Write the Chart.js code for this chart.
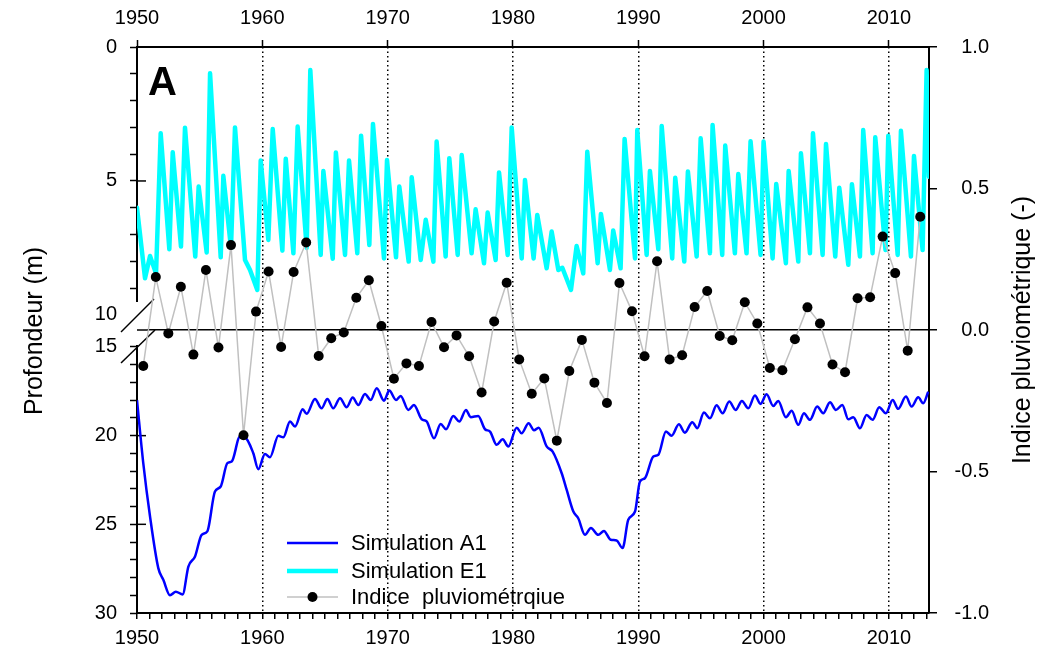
<!DOCTYPE html>
<html>
<head>
<meta charset="utf-8">
<script src="https://cdn.jsdelivr.net/npm/chart.js@4.4.0/dist/chart.umd.min.js"></script>
<style>
  html, body { margin: 0; padding: 0; background: #fff; }
  canvas { display: block; }
</style>
</head>
<body>
<canvas id="chart" width="1039" height="657"></canvas>
<script>
// Simulation E1 (profondeur, m) : creux et pics
const E1_YEARS = [
  1950.0, 1950.64, 1951.04, 1951.52, 1951.89, 1952.58, 1952.85, 1953.51, 1953.83, 1954.65, 1954.92,
  1955.56, 1955.83, 1956.68, 1956.89, 1957.5, 1957.82, 1958.62, 1959.02, 1959.6, 1959.87,
  1960.48, 1960.83, 1961.6, 1961.87, 1962.48, 1962.82, 1963.54, 1963.83, 1964.66, 1964.87,
  1965.62, 1965.87, 1966.6, 1966.92, 1967.58, 1967.88, 1968.54, 1968.83, 1969.71, 1969.95,
  1970.67, 1970.93, 1971.68, 1971.92, 1972.64, 1973.04, 1973.65, 1973.91, 1974.63, 1974.92,
  1975.59, 1975.91, 1976.7, 1977.02, 1977.69, 1977.98, 1978.62, 1978.89, 1979.58, 1979.9,
  1980.7, 1980.96, 1981.65, 1981.94, 1982.69, 1983.09, 1983.62, 1983.94, 1984.63, 1985.08,
  1985.61, 1985.93, 1986.76, 1987.02, 1987.74, 1988.0, 1988.59, 1988.91, 1989.74, 1989.92,
  1990.67, 1990.93, 1991.6, 1991.87, 1992.71, 1992.95, 1993.67, 1993.96, 1994.66, 1994.98,
  1995.72, 1995.93, 1996.7, 1996.94, 1997.71, 1997.98, 1998.64, 1998.96, 1999.76, 2000.0,
  2000.72, 2001.01, 2001.78, 2002.0, 2002.77, 2002.98, 2003.7, 2003.94, 2004.71, 2004.98,
  2005.72, 2006.04, 2006.76, 2007.05, 2007.69, 2007.95, 2008.7, 2008.91, 2009.73, 2009.95,
  2010.7, 2010.96, 2011.76, 2012.0, 2012.69, 2013.01, 2013.2
];
const E1_DEPTH = [
  6.0, 8.63, 7.8, 8.45, 3.22, 7.55, 3.93, 7.45, 3.01, 7.82, 5.21,
  7.67, 0.98, 7.85, 4.81, 7.5, 3.0, 7.95, 8.32, 9.07, 4.24,
  7.2, 3.06, 7.6, 4.17, 7.7, 2.97, 7.5, 0.86, 7.76, 4.63,
  7.9, 3.94, 7.76, 4.24, 7.7, 3.31, 7.39, 2.87, 7.89, 4.22,
  7.85, 5.21, 8.01, 4.86, 7.95, 6.45, 8.01, 3.53, 7.82, 4.15,
  7.76, 4.03, 7.7, 6.06, 8.07, 6.18, 7.95, 4.68, 7.76, 3.0,
  7.89, 4.96, 7.89, 6.27, 8.26, 6.89, 8.32, 8.24, 9.07, 7.43,
  8.45, 3.91, 8.07, 6.23, 8.32, 6.85, 8.26, 3.43, 7.89, 3.1,
  7.76, 4.63, 7.55, 2.95, 7.89, 4.88, 8.01, 4.65, 7.82, 3.41,
  7.7, 2.91, 7.76, 3.68, 7.7, 4.74, 7.7, 3.52, 7.76, 3.53,
  7.89, 5.11, 8.07, 4.63, 8.01, 3.97, 7.7, 3.22, 7.76, 3.62,
  7.82, 5.25, 8.13, 5.12, 7.82, 3.1, 7.7, 3.37, 7.58, 3.31,
  7.76, 3.13, 7.82, 4.07, 7.58, 0.86, 4.84
];

// Simulation A1 (profondeur, m)
const A1_YEARS = [
  1950.0, 1950.5, 1951.04, 1951.7, 1952.1, 1952.63, 1953.1, 1953.64, 1954.1, 1954.63,
  1955.16, 1955.61, 1956.22, 1956.68, 1957.21, 1957.56, 1958.22, 1958.62, 1959.28, 1959.68,
  1960.21, 1960.61, 1961.28, 1961.68, 1962.21, 1962.61, 1963.22, 1963.54, 1964.2, 1964.73,
  1965.19, 1965.66, 1966.2, 1966.73, 1967.21, 1967.66, 1968.19, 1968.65, 1969.13, 1969.71,
  1970.13, 1970.67, 1971.04, 1971.65, 1972.1, 1972.72, 1973.11, 1973.7, 1974.23, 1974.66,
  1975.24, 1975.72, 1976.25, 1976.63, 1977.23, 1977.77, 1978.17, 1978.7, 1979.18, 1979.63,
  1980.3, 1980.69, 1981.25, 1981.68, 1982.05, 1982.69, 1983.17, 1983.89, 1984.29, 1984.82,
  1985.21, 1985.75, 1986.22, 1986.81, 1987.26, 1987.8, 1988.27, 1988.75, 1989.2, 1989.74,
  1990.13, 1990.53, 1991.2, 1991.6, 1992.21, 1992.66, 1993.24, 1993.72, 1994.31, 1994.71,
  1995.24, 1995.72, 1996.25, 1996.73, 1997.26, 1997.77, 1998.27, 1998.78, 1999.31, 1999.76,
  2000.24, 2000.77, 2001.17, 2001.78, 2002.24, 2002.77, 2003.22, 2003.7, 2004.28, 2004.76,
  2005.3, 2005.77, 2006.28, 2006.76, 2007.16, 2007.69, 2008.22, 2008.7, 2009.23, 2009.76,
  2010.3, 2010.74, 2011.36, 2011.81, 2012.34, 2012.74, 2013.14
];
const A1_DEPTH = [
  18.0, 21.55, 24.56, 27.47, 28.13, 29.0, 28.8, 28.95, 27.38, 26.81,
  25.59, 25.4, 23.15, 22.87, 21.55, 21.46, 20.05, 20.09, 20.99, 21.89,
  21.03, 21.22, 20.01, 20.09, 19.2, 19.49, 18.51, 18.77, 17.93, 18.46,
  17.93, 18.46, 17.89, 18.4, 17.85, 18.27, 17.65, 17.99, 17.33, 18.03,
  17.46, 17.99, 17.76, 18.55, 18.27, 19.08, 19.2, 20.15, 19.34, 19.64,
  18.89, 19.2, 18.55, 18.96, 18.89, 19.64, 19.77, 20.52, 20.2, 20.61,
  19.55, 19.87, 19.3, 19.7, 19.55, 20.61, 20.9, 22.12, 23.06, 24.28,
  24.66, 25.59, 25.21, 25.59, 25.37, 25.87, 25.91, 26.34, 24.74, 24.28,
  22.59, 22.4, 21.18, 21.08, 19.77, 20.01, 19.36, 19.83, 19.24, 19.58,
  18.7, 19.02, 18.29, 18.74, 18.08, 18.55, 18.04, 18.46, 17.74, 18.21,
  17.67, 18.33, 18.04, 18.96, 18.6, 19.39, 18.74, 19.11, 18.36, 18.74,
  18.12, 18.55, 18.27, 19.08, 18.96, 19.58, 18.83, 19.11, 18.4, 18.74,
  17.99, 18.49, 17.8, 18.36, 17.84, 18.17, 17.52
];

// Indice pluviométrique annuel, 1950 -> 2012 (placé en milieu d'année)
const RAIN_INDEX = [
  -0.127, 0.187, -0.012, 0.153, -0.087, 0.212, -0.062, 0.300, -0.372, 0.065,
  0.207, -0.060, 0.205, 0.309, -0.092, -0.029, -0.009, 0.114, 0.176, 0.014,
  -0.172, -0.118, -0.127, 0.028, -0.061, -0.019, -0.093, -0.221, 0.030, 0.167,
  -0.104, -0.225, -0.171, -0.391, -0.145, -0.035, -0.186, -0.258, 0.166, 0.066,
  -0.093, 0.243, -0.104, -0.089, 0.081, 0.138, -0.021, -0.036, 0.098, 0.023,
  -0.134, -0.142, -0.033, 0.080, 0.023, -0.122, -0.149, 0.112, 0.116, 0.330,
  0.201, -0.073, 0.400
];
const RAIN_YEARS = RAIN_INDEX.map((v, i) => 1950.5 + i);

const DECADES = [1950, 1960, 1970, 1980, 1990, 2000, 2010];
const TOP_DEPTH_LABELS = [0, 5, 10];
const BOTTOM_DEPTH_LABELS = [15, 20, 25, 30];
const INDEX_TICKS = [-1, -0.5, 0, 0.5, 1];

const LEFT_TITLE = 'Profondeur (m)';
const RIGHT_TITLE = 'Indice pluviométrique (-)';
const PANEL = 'A';

const FONT = '"Liberation Sans", Arial, sans-serif';

function range(a, b) {
  const out = [];
  for (let v = a; v <= b; v++) out.push(v);
  return out;
}

function points(xs, ys) {
  return xs.map((x, i) => ({ x, y: ys[i] }));
}

function line(ctx, x1, y1, x2, y2) {
  ctx.beginPath();
  ctx.moveTo(x1, y1);
  ctx.lineTo(x2, y2);
  ctx.stroke();
}

// coupure de l'axe gauche + graduations majeures vers l'intérieur
const axisBreak = {
  id: 'axisBreak',
  beforeDatasetsDraw(chart) {
    const { ctx, chartArea, scales } = chart;
    const x0 = chartArea.left;
    const yj = scales.yE.bottom;
    ctx.save();
    ctx.fillStyle = '#fff';
    ctx.fillRect(x0 - 10, yj - 29, 20, 43);
    ctx.strokeStyle = '#000';
    ctx.lineWidth = 1.5;
    line(ctx, x0, scales.yR.getPixelForValue(0), x0 + 12, scales.yR.getPixelForValue(0));
    line(ctx, x0 - 16, yj + 1, x0 + 17, yj - 32);
    line(ctx, x0 - 16, yj + 32, x0 + 18, yj - 1);
    [5].forEach((v) => {
      const y = scales.yE.getPixelForValue(v);
      line(ctx, x0, y, x0 + 9, y);
    });
    [20, 25].forEach((v) => {
      const y = scales.yA.getPixelForValue(v);
      line(ctx, x0, y, x0 + 9, y);
    });
    ctx.restore();
  },
};

// titres d'axes, lettre du panneau et légende
const decorations = {
  id: 'decorations',
  afterDraw(chart) {
    const { ctx, chartArea, scales } = chart;
    const x0 = chartArea.left;
    ctx.save();
    ctx.fillStyle = '#000';
    ctx.textAlign = 'center';
    ctx.textBaseline = 'middle';
    ctx.font = '25px ' + FONT;

    ctx.save();
    ctx.translate(35, scales.yE.bottom);
    ctx.rotate(-Math.PI / 2);
    ctx.fillText(LEFT_TITLE, 0, 0);
    ctx.restore();

    ctx.save();
    ctx.translate(1023, (chartArea.top + chartArea.bottom) / 2);
    ctx.rotate(-Math.PI / 2);
    ctx.fillText(RIGHT_TITLE, 0, 0);
    ctx.restore();

    ctx.textAlign = 'left';
    ctx.textBaseline = 'alphabetic';
    ctx.font = 'bold 40px ' + FONT;
    ctx.fillText(PANEL, x0 + 11, chartArea.top + 48);

    const rows = [chartArea.bottom - 70, chartArea.bottom - 42, chartArea.bottom - 16];
    ctx.font = '22px ' + FONT;
    ctx.textBaseline = 'middle';
    chart.data.datasets.forEach((ds, i) => {
      const y = rows[i];
      ctx.strokeStyle = ds.borderColor;
      ctx.lineWidth = ds.borderWidth;
      line(ctx, x0 + 150, y, x0 + 201, y);
      if (ds.pointRadius > 0) {
        ctx.fillStyle = ds.pointBackgroundColor;
        ctx.beginPath();
        ctx.arc(x0 + 175.5, y, ds.pointRadius, 0, Math.PI * 2);
        ctx.fill();
      }
      ctx.fillStyle = '#000';
      ctx.fillText(ds.label, x0 + 214, y + 1);
    });
    ctx.restore();
  },
};

const tickFont = { family: FONT, size: 20 };
const clear = 'rgba(0,0,0,0)';

new Chart(document.getElementById('chart'), {
  type: 'line',
  data: {
    datasets: [
      {
        label: 'Simulation A1',
        data: points(A1_YEARS, A1_DEPTH),
        yAxisID: 'yA',
        borderColor: '#0000ff',
        borderWidth: 2.5,
        pointRadius: 0,
        cubicInterpolationMode: 'monotone',
        order: 2,
      },
      {
        label: 'Simulation E1',
        data: points(E1_YEARS, E1_DEPTH),
        yAxisID: 'yE',
        borderColor: '#00ffff',
        borderWidth: 4.5,
        pointRadius: 0,
        tension: 0,
        borderJoinStyle: 'round',
        borderCapStyle: 'round',
        order: 1,
      },
      {
        label: 'Indice  pluviométrqiue',
        data: points(RAIN_YEARS, RAIN_INDEX),
        yAxisID: 'yR',
        borderColor: '#c0c0c0',
        borderWidth: 1.5,
        pointRadius: 5,
        pointBackgroundColor: '#000',
        pointBorderColor: '#000',
        pointBorderWidth: 0,
        tension: 0,
        order: 0,
      },
    ],
  },
  options: {
    responsive: false,
    animation: false,
    devicePixelRatio: 1,
    events: [],
    layout: { padding: { left: 0, right: 50, top: 0, bottom: 0 } },
    plugins: {
      legend: { display: false },
      tooltip: { enabled: false },
    },
    scales: {
      x: {
        type: 'linear',
        position: 'bottom',
        min: 1950,
        max: 2013.2,
        afterBuildTicks: (s) => { s.ticks = range(1950, 2013).map((v) => ({ value: v })); },
        afterFit: (s) => { s.height = 44; },
        ticks: {
          autoSkip: false,
          maxRotation: 0,
          minRotation: 0,
          padding: 7,
          color: '#000',
          font: tickFont,
          callback: (v) => (DECADES.includes(v) ? String(v) : ''),
        },
        grid: {
          drawOnChartArea: true,
          color: (c) => (c.tick && c.tick.value !== 1950 && DECADES.includes(c.tick.value) ? '#000' : clear),
          lineWidth: 1.5,
          tickColor: '#000',
          tickWidth: 1.5,
          tickLength: 6,
        },
        border: { color: '#000', width: 2, dash: [1.5, 3] },
      },
      xTop: {
        type: 'linear',
        position: 'top',
        min: 1950,
        max: 2013.2,
        afterBuildTicks: (s) => { s.ticks = DECADES.map((v) => ({ value: v })); },
        afterFit: (s) => { s.height = 47; },
        ticks: {
          autoSkip: false,
          maxRotation: 0,
          padding: 10,
          color: '#000',
          font: tickFont,
          callback: (v) => String(v),
        },
        grid: { drawOnChartArea: false, tickColor: '#000', tickWidth: 1.5, tickLength: 7 },
        border: { color: '#000', width: 2 },
      },
      yA: {
        type: 'linear',
        position: 'left',
        stack: 'depth',
        stackWeight: 282,
        reverse: true,
        min: 14.1,
        max: 30,
        afterBuildTicks: (s) => { s.ticks = range(15, 30).map((v) => ({ value: v })); },
        afterFit: (s) => { s.width = 137; },
        ticks: {
          autoSkip: false,
          padding: 13,
          color: '#000',
          font: tickFont,
          callback: (v) => (BOTTOM_DEPTH_LABELS.includes(v) ? String(v) : ''),
        },
        grid: { drawOnChartArea: false, tickColor: '#000', tickWidth: 1.5, tickLength: 7 },
        border: { color: '#000', width: 2 },
      },
      yE: {
        type: 'linear',
        position: 'left',
        stack: 'depth',
        stackWeight: 284,
        reverse: true,
        min: 0,
        max: 10.6,
        afterBuildTicks: (s) => { s.ticks = range(0, 10).map((v) => ({ value: v })); },
        afterFit: (s) => { s.width = 137; },
        ticks: {
          autoSkip: false,
          padding: 13,
          color: '#000',
          font: tickFont,
          callback: (v) => (TOP_DEPTH_LABELS.includes(v) ? String(v) : ''),
        },
        grid: { drawOnChartArea: false, tickColor: '#000', tickWidth: 1.5, tickLength: 7 },
        border: { color: '#000', width: 2 },
      },
      yR: {
        type: 'linear',
        position: 'right',
        min: -1,
        max: 1,
        afterBuildTicks: (s) => { s.ticks = INDEX_TICKS.map((v) => ({ value: v })); },
        afterFit: (s) => { s.width = 60; },
        ticks: {
          crossAlign: 'far',
          padding: 8,
          color: '#000',
          font: tickFont,
          callback: (v) => v.toFixed(1),
        },
        grid: {
          drawOnChartArea: true,
          color: (c) => (c.tick && c.tick.value === 0 ? '#000' : clear),
          lineWidth: 1.5,
          tickColor: '#000',
          tickWidth: 1.5,
          tickLength: 8,
        },
        border: { color: '#000', width: 2 },
      },
    },
  },
  plugins: [axisBreak, decorations],
});
</script>
</body>
</html>
